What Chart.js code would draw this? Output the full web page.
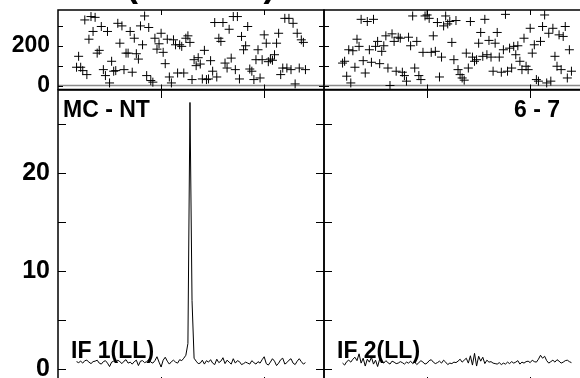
<!DOCTYPE html>
<html>
<head>
<meta charset="utf-8">
<script src="https://cdn.jsdelivr.net/npm/chart.js@4.4.1/dist/chart.umd.min.js"></script>
<style>
  html, body { margin: 0; padding: 0; background: #fff; }
  #page { position: relative; width: 580px; height: 378px; overflow: hidden; background: #fff;
          font-family: "Liberation Sans", Arial, sans-serif; }
  .box { position: absolute; }
  .lbl { position: absolute; font-weight: bold; font-size: 23px; line-height: 1; color: #000; white-space: nowrap; }
</style>
</head>
<body>
<div id="page">
  <div class="box" style="left:0;top:0;width:330px;height:95px"><canvas id="phaseLeft"></canvas></div>
  <div class="box" style="left:318px;top:0;width:278px;height:95px"><canvas id="phaseRight"></canvas></div>
  <div class="box" style="left:0;top:80px;width:330px;height:310px"><canvas id="ampLeft"></canvas></div>
  <div class="box" style="left:318px;top:80px;width:278px;height:310px"><canvas id="ampRight"></canvas></div>

  <div class="lbl" style="left:-50px;top:-34px;font-size:36px">Spectrum (LL 6 - 7)</div>
  <div class="lbl" style="left:63px;top:98px">MC - NT</div>
  <div class="lbl" style="left:514px;top:98px">6 - 7</div>
  <div class="lbl" style="left:71px;top:339px">IF 1(LL)</div>
  <div class="lbl" style="left:337px;top:339px">IF 2(LL)</div>
</div>
<script>
// channels 9..120 are plotted in each IF
const firstChannel = 9;
const channelTicks = [50, 100];

const phaseTicks = [0, 100, 200, 300];
const phaseLabels = [0, 200];
const ampTicks = [0, 5, 10, 15, 20, 25];
const ampLabels = [0, 10, 20];

// phase (degrees), IF 1
const phaseIF1 = [92, 147, 92, 75, 330, 55, 233, 347, 272, 343,
  163, 177, 297, 80, 50, 272, 13, 122, 72, 75,
  313, 213, 300, 80, 163, 163, 272, 67, 238, 160,
  133, 300, 205, 350, 50, 292, 25, 17, 238, 183,
  210, 263, 167, 110, 233, 43, 13, 230, 205, 63,
  205, 197, 63, 238, 250, 217, 30, 130, 100, 140,
  108, 33, 177, 30, 33, 125, 72, 317, 43, 238,
  222, 317, 113, 88, 283, 138, 347, 80, 347, 33,
  247, 180, 200, 297, 83, 72, 30, 130, 180, 38,
  130, 255, 213, 120, 133, 127, 155, 213, 263, 55,
  88, 338, 88, 338, 80, 313, 8, 263, 88, 230,
  217, 80];

// phase (degrees), IF 2
const phaseIF2 = [113, 122, 47, 180, 13, 175, 92, 233, 197, 333,
  125, 63, 322, 180, 117, 333, 197, 222, 110, 172,
  200, 250, 88, 0, 260, 222, 72, 243, 238, 67,
  50, 22, 243, 200, 350, 88, 222, 50, 30, 167,
  350, 355, 338, 167, 250, 172, 317, 43, 143, 300,
  350, 310, 322, 217, 130, 327, 80, 55, 38, 27,
  163, 88, 322, 143, 122, 130, 213, 267, 147, 333,
  155, 227, 143, 72, 213, 267, 143, 67, 180, 358,
  72, 188, 88, 197, 155, 200, 122, 80, 238, 97,
  80, 288, 163, 205, 30, 22, 222, 297, 355, 13,
  263, 22, 288, 147, 97, 255, 80, 247, 297, 38,
  180, 72];

// amplitude, IF 1
const ampIF1 = [0.75, 0.65, 0.8, 0.6, 0.85, 0.9, 0.7, 0.55, 0.75, 0.8,
  0.9, 0.6, 0.5, 0.75, 0.85, 0.6, 0.25, 0.7, 0.8, 0.65,
  0.9, 0.75, 0.55, 0.8, 0.95, 0.6, 0.7, 0.5, 0.75, 0.9,
  0.35, 0.8, 0.85, 0.65, 0.75, 0.95, 0.7, 0.6, 0.85, 1.25,
  0.7, 0.2, 0.9, 1.2, 0.8, 0.5, 0.75, 0.9, 0.7, 0.6,
  0.95, 0.85, 1.1, 1.4, 2.6, 27.2, 7.0, 1.1,
  0.8, 0.55, 0.6, 0.9, 0.5, 0.85, 0.7, 0.95, 0.6, 0.45,
  1.0, 0.65, 0.8, 1.15, 0.55, 0.9, 0.7, 0.5, 1.05, 0.6,
  0.85, 0.75, 0.45, 0.55, 0.7, 0.6, 0.5, 0.85, 0.65, 0.5,
  0.75, 0.6, 0.95, 1.25, 0.55, 0.4, 0.7, 1.05, 0.8, 0.35,
  0.6, 0.95, 1.1, 0.5, 0.65, 0.9, 1.05, 0.6, 0.45, 0.8,
  1.05, 0.75, 0.5, 0.65];

// amplitude, IF 2
const ampIF2 = [0.6, 0.4, 0.75, 0.9, 0.7, 1.0, 1.2, 0.85, 1.55, 0.6,
  1.1, 0.3, 1.0, 0.7, 1.2, 0.5, 0.9, 0.25, 1.0, 0.75,
  0.6, 0.85, 0.65, 0.5, 0.8, 0.7, 0.55, 0.6, 0.75, 0.65,
  0.5, 0.7, 0.6, 0.8, 0.55, 0.7, 0.45, 0.65, 0.85, 0.7,
  0.5, 0.6, 0.85, 0.95, 0.7, 0.55, 0.65, 0.8, 0.6, 0.9,
  0.7, 0.45, 0.6, 0.55, 0.7, 0.65, 0.8, 1.0, 0.7, 0.9,
  1.1, 0.6, 1.35, 0.4, 1.6, 0.3, 1.3, 0.8, 1.2, 0.55,
  0.9, 0.7, 0.75, 0.6, 0.55, 0.5, 0.65, 0.45, 0.6, 0.5,
  0.7, 0.55, 0.75, 0.6, 0.7, 0.85, 0.5, 0.7, 0.6, 0.75,
  0.8, 0.65, 0.9, 0.75, 0.7, 1.0, 1.4, 1.1, 1.3, 0.85,
  0.6, 0.75, 0.9, 0.7, 0.95, 0.8, 0.6, 0.7, 0.85, 0.9,
  0.75, 0.65];

const fontFamily = '"Liberation Sans", Arial, sans-serif';

// draws the box, the inward ticks and (for phase) the grey zero line
const framePlugin = {
  id: 'frame',
  beforeDatasetsDraw(chart, args, opts) {
    if (!opts.zeroLine) return;
    const a = chart.chartArea, ctx = chart.ctx;
    const y = chart.scales.y.getPixelForValue(0);
    ctx.save();
    ctx.strokeStyle = '#8a8a8a';
    ctx.lineWidth = 1.5;
    ctx.beginPath();
    ctx.moveTo(a.left, y);
    ctx.lineTo(a.right, y);
    ctx.stroke();
    ctx.restore();
  },
  afterDatasetsDraw(chart, args, opts) {
    const a = chart.chartArea, ctx = chart.ctx;
    const xs = chart.scales.x, ys = chart.scales.y;
    ctx.save();
    ctx.strokeStyle = '#000';
    ctx.lineWidth = 1.5;
    ctx.strokeRect(a.left, a.top, a.right - a.left, a.bottom - a.top);
    ctx.lineWidth = 1;
    ctx.beginPath();
    opts.yTicks.forEach(v => {
      const y = Math.round(ys.getPixelForValue(v)) + 0.5;
      ctx.moveTo(a.left, y); ctx.lineTo(a.left + opts.len, y);
      ctx.moveTo(a.right, y); ctx.lineTo(a.right - opts.len, y);
    });
    channelTicks.forEach(v => {
      const x = Math.round(xs.getPixelForValue(v)) + 0.5;
      ctx.moveTo(x, a.top); ctx.lineTo(x, a.top + opts.len);
      ctx.moveTo(x, a.bottom); ctx.lineTo(x, a.bottom - opts.len);
    });
    ctx.stroke();
    ctx.restore();
  }
};

function toPoints(values) {
  return values.map((v, i) => ({ x: firstChannel + i, y: v }));
}

function makePanel(id, opt) {
  const ds = opt.phase
    ? { type: 'scatter', data: toPoints(opt.values), pointStyle: 'cross', pointRadius: 4.5,
        borderColor: '#000', borderWidth: 1, backgroundColor: '#000' }
    : { type: 'line', data: toPoints(opt.values), borderColor: '#000', borderWidth: 1,
        pointRadius: 0, tension: 0, fill: false };

  return new Chart(document.getElementById(id), {
    type: ds.type,
    data: { datasets: [ds] },
    plugins: [framePlugin],
    options: {
      responsive: true,
      maintainAspectRatio: false,
      animation: false,
      devicePixelRatio: 1,
      layout: { padding: opt.padding },
      plugins: {
        legend: { display: false },
        tooltip: { enabled: false },
        frame: { yTicks: opt.yTicks, len: opt.tickLen, zeroLine: opt.phase }
      },
      scales: {
        x: { type: 'linear', min: 0, max: 129, display: false },
        y: {
          type: 'linear',
          min: opt.yMin,
          max: opt.yMax,
          display: opt.labelled,
          afterFit: s => {
            s.width = opt.labelled ? 58 : 0;
            s.paddingTop = 0;
            s.paddingBottom = 0;
          },
          afterBuildTicks: s => { s.ticks = opt.yLabels.map(v => ({ value: v })); },
          grid: { display: false, drawTicks: false },
          border: { display: false },
          ticks: {
            autoSkip: false,
            color: '#000',
            padding: 8,
            font: { family: fontFamily, size: opt.labelSize, weight: 'bold' }
          }
        }
      }
    }
  });
}

const phaseCommon = { phase: true, yMin: -20, yMax: 380, yTicks: phaseTicks, yLabels: phaseLabels,
  tickLen: 5, labelSize: 23 };
const ampCommon = { phase: false, yMin: -1.633, yMax: 28.47, yTicks: ampTicks, yLabels: ampLabels,
  tickLen: 8, labelSize: 25 };

makePanel('phaseLeft', Object.assign({}, phaseCommon, { values: phaseIF1, labelled: true,
  padding: { top: 10, bottom: 5, left: 0, right: 6 } }));
makePanel('phaseRight', Object.assign({}, phaseCommon, { values: phaseIF2, labelled: false,
  padding: { top: 10, bottom: 5, left: 6, right: 6 } }));
makePanel('ampLeft', Object.assign({}, ampCommon, { values: ampIF1, labelled: true,
  padding: { top: 10, bottom: 5, left: 0, right: 6 } }));
makePanel('ampRight', Object.assign({}, ampCommon, { values: ampIF2, labelled: false,
  padding: { top: 10, bottom: 5, left: 6, right: 6 } }));
</script>
</body>
</html>
